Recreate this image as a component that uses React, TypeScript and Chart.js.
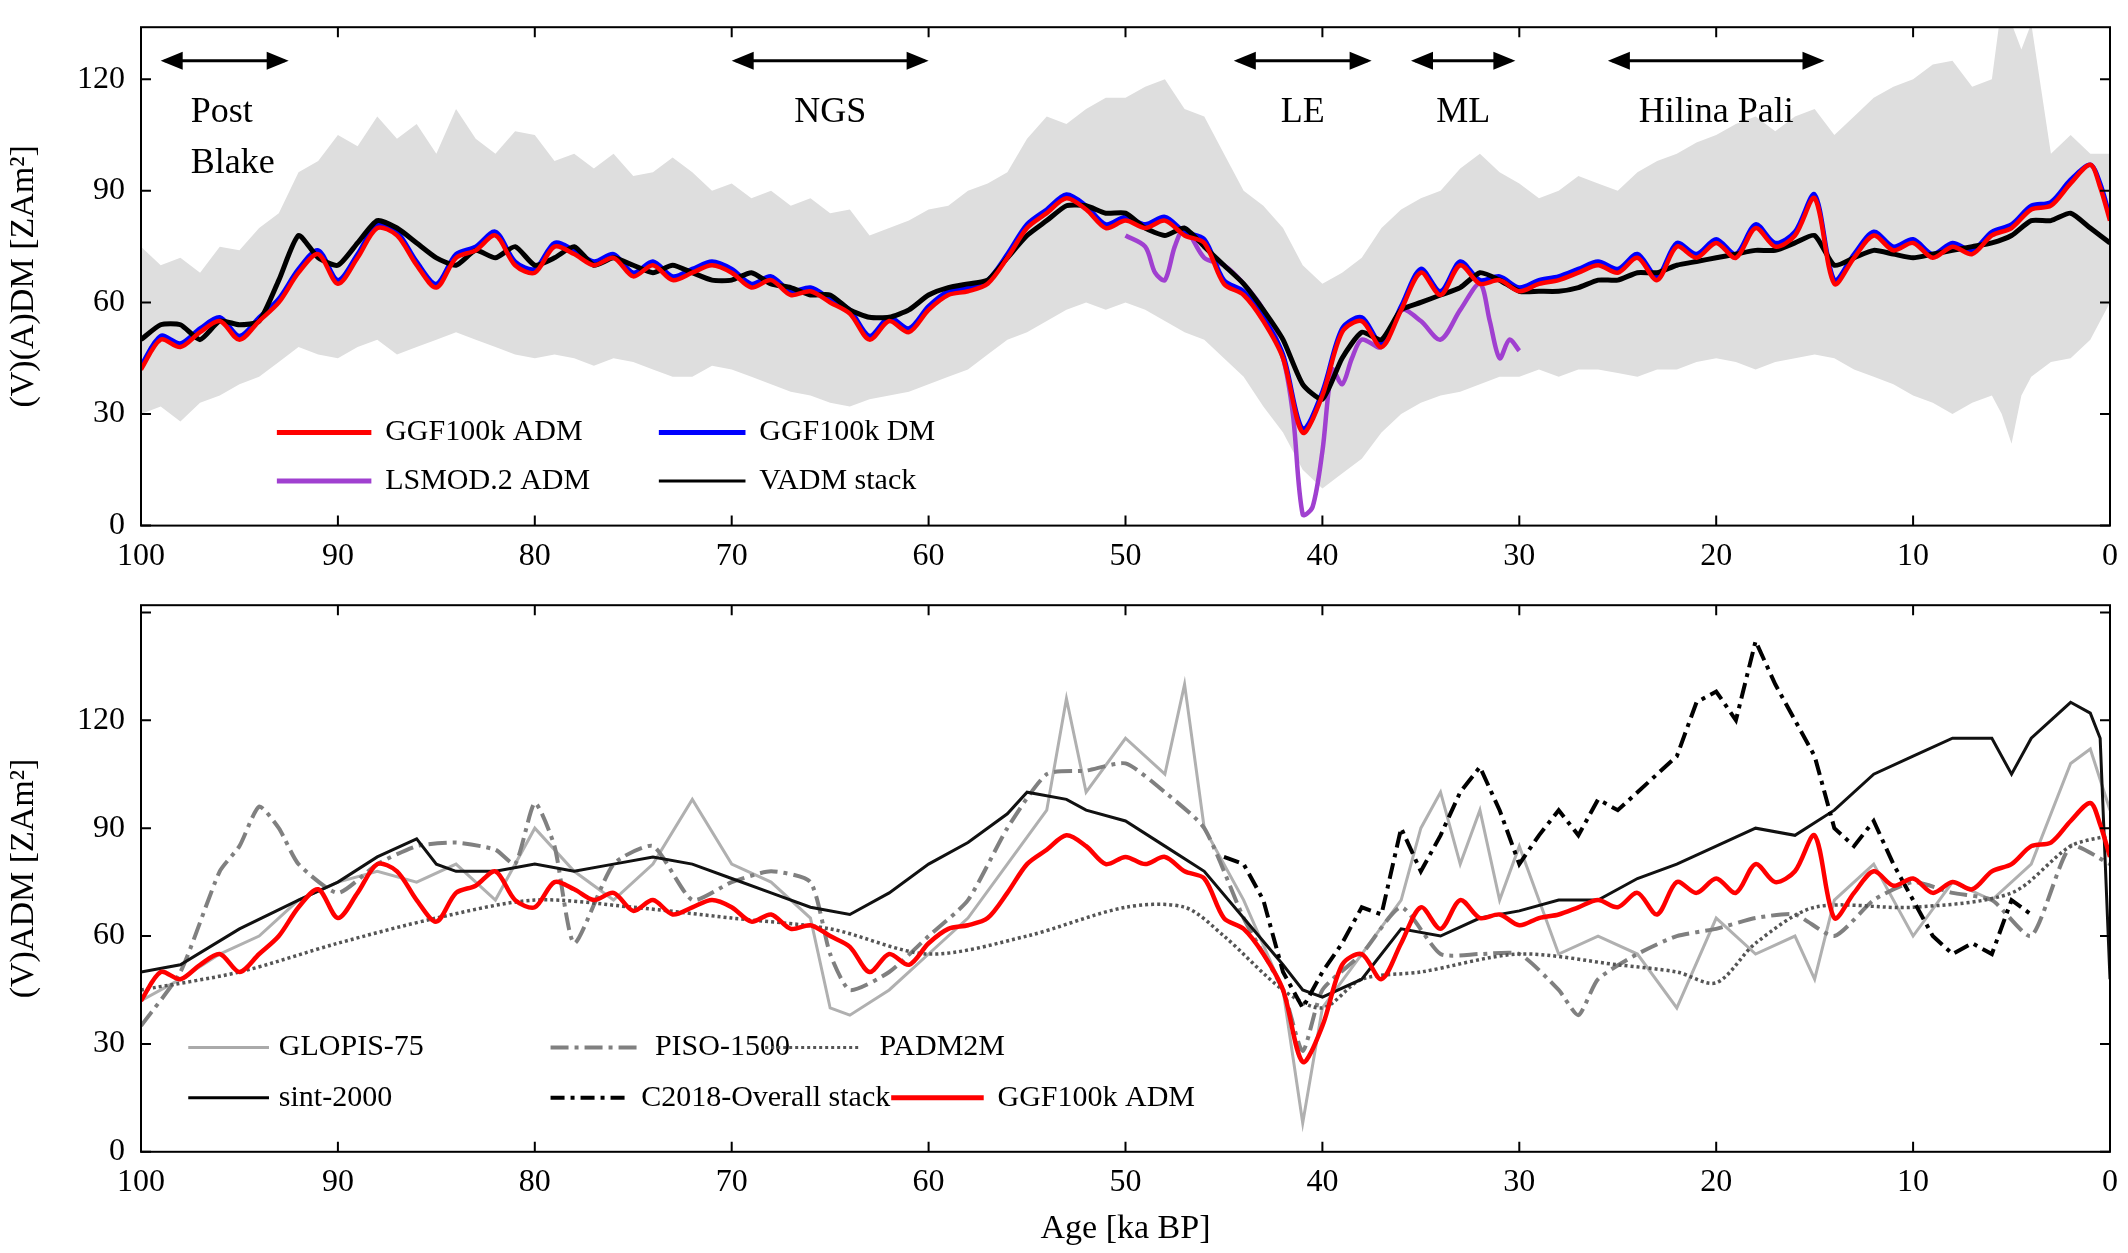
import React, { useEffect, useRef } from "react";
import { Chart, registerables } from "chart.js";
Chart.register(...registerables);

type P = [number, number][];
const FONT = "'Liberation Serif', 'DejaVu Serif', serif";

const ggfADM: P = [[100,42],[99,50],[98,48],[97,52],[96,55],[95,50],[94,55],[93,60],[92,68],[91,73],[90,65],[89,72],[88,80],[87,78],[86,70],[85,64],[84,72],[83,74],[82,78],[81,70],[80,68],[79,75],[78,73],[77,70],[76,72],[75,67],[74,70],[73,66],[72,68],[71,70],[70,68],[69,64],[68,66],[67,62],[66,63],[65,60],[64,57],[63,50],[62,55],[61,52],[60,58],[59,62],[58,63],[57,65],[56,72],[55,80],[54,84],[53,88],[52,85],[51,80],[50,82],[49,80],[48,82],[47,78],[46,76],[45,65],[44,62],[43,55],[42,45],[41,25],[40,35],[39,52],[38,55],[37,48],[36,58],[35,68],[34,62],[33,70],[32,65],[31,66],[30,63],[29,65],[28,66],[27,68],[26,70],[25,68],[24,72],[23,66],[22,75],[21,72],[20,76],[19,72],[18,80],[17,75],[16,78],[15,88],[14,65],[13,72],[12,78],[11,74],[10,76],[9,72],[8,75],[7,73],[6,78],[5,80],[4,85],[3,86],[2,92],[1,97],[0.5,91],[0,82]];
const ggfDM: P = [[100,43],[99,51],[98,49],[97,53],[96,56],[95,51],[94,56],[93,61],[92,69],[91,74],[90,66],[89,73],[88,81],[87,79],[86,71],[85,65],[84,73],[83,75],[82,79],[81,71],[80,69],[79,76],[78,74],[77,71],[76,73],[75,68],[74,71],[73,67],[72,69],[71,71],[70,69],[69,65],[68,67],[67,63],[66,64],[65,61],[64,58],[63,51],[62,56],[61,53],[60,59],[59,63],[58,64],[57,66],[56,73],[55,81],[54,85],[53,89],[52,86],[51,81],[50,83],[49,81],[48,83],[47,79],[46,77],[45,66],[44,63],[43,56],[42,46],[41,26],[40,36],[39,53],[38,56],[37,49],[36,59],[35,69],[34,63],[33,71],[32,66],[31,67],[30,64],[29,66],[28,67],[27,69],[26,71],[25,69],[24,73],[23,67],[22,76],[21,73],[20,77],[19,73],[18,81],[17,76],[16,79],[15,89],[14,66],[13,73],[12,79],[11,75],[10,77],[9,73],[8,76],[7,74],[6,79],[5,81],[4,86],[3,87],[2,93],[1,97],[0.5,92],[0,83]];
const vadmStack: P = [[100,50],[99,54],[98,54],[97,50],[96,55],[95,54],[94,55],[93,66],[92,78],[91,72],[90,70],[89,76],[88,82],[87,80],[86,76],[85,72],[84,70],[83,74],[82,72],[81,75],[80,70],[79,72],[78,75],[77,70],[76,72],[75,70],[74,68],[73,70],[72,68],[71,66],[70,66],[69,68],[68,65],[67,64],[66,62],[65,62],[64,58],[63,56],[62,56],[61,58],[60,62],[59,64],[58,65],[57,66],[56,72],[55,78],[54,82],[53,86],[52,86],[51,84],[50,84],[49,80],[48,78],[47,80],[46,75],[45,70],[44,65],[43,58],[42,50],[41,38],[40,34],[39,45],[38,52],[37,50],[36,58],[35,60],[34,62],[33,64],[32,68],[31,66],[30,63],[29,63],[28,63],[27,64],[26,66],[25,66],[24,68],[23,68],[22,70],[21,71],[20,72],[19,73],[18,74],[17,74],[16,76],[15,78],[14,70],[13,72],[12,74],[11,73],[10,72],[9,73],[8,74],[7,75],[6,76],[5,78],[4,82],[3,82],[2,84],[1,80],[0,76]];
const lsmod: P = [[50,78],[49,75],[48.5,68],[48,66],[47.5,75],[47,80],[46,72],[45,70],[44,65],[43,58],[42,45],[41.5,30],[41,3],[40.5,5],[40,20],[39.5,42],[39,38],[38.5,45],[38,50],[37,48],[36,58],[35,55],[34,50],[33,58],[32,65],[31.5,55],[31,45],[30.5,50],[30,47]];
const envUpper: P = [[100,75],[99,70],[98,72],[97,68],[96,75],[95,74],[94,80],[93,84],[92,95],[91,98],[90,105],[89,102],[88,110],[87,104],[86,108],[85,100],[84,112],[83,104],[82,100],[81,106],[80,105],[79,98],[78,100],[77,96],[76,100],[75,94],[74,95],[73,99],[72,95],[71,90],[70,92],[69,88],[68,90],[67,86],[66,88],[65,84],[64,85],[63,78],[62,80],[61,82],[60,85],[59,86],[58,90],[57,92],[56,95],[55,104],[54,110],[53,108],[52,112],[51,115],[50,115],[49,118],[48,120],[47,112],[46,110],[45,100],[44,90],[43,86],[42,80],[41,70],[40,65],[39,68],[38,72],[37,80],[36,85],[35,88],[34,90],[33,96],[32,100],[31,95],[30,92],[29,88],[28,90],[27,94],[26,92],[25,90],[24,95],[23,98],[22,100],[21,103],[20,105],[19,108],[18,110],[17,106],[16,110],[15,112],[14,105],[13,110],[12,115],[11,118],[10,120],[9,124],[8,125],[7,118],[6,120],[5.5,140],[5,135],[4.5,128],[4,135],[3,100],[2,105],[1,100],[0,100]];
const envLower: P = [[100,30],[99,32],[98,28],[97,33],[96,35],[95,38],[94,40],[93,44],[92,48],[91,46],[90,45],[89,48],[88,50],[87,46],[86,48],[85,50],[84,52],[83,50],[82,48],[81,46],[80,45],[79,46],[78,45],[77,43],[76,45],[75,44],[74,42],[73,40],[72,40],[71,43],[70,42],[69,40],[68,38],[67,36],[66,35],[65,33],[64,32],[63,34],[62,35],[61,36],[60,38],[59,40],[58,42],[57,46],[56,50],[55,52],[54,55],[53,58],[52,60],[51,58],[50,60],[49,58],[48,55],[47,52],[46,50],[45,45],[44,40],[43,32],[42,25],[41,15],[40,10],[39,14],[38,18],[37,25],[36,30],[35,33],[34,35],[33,36],[32,38],[31,40],[30,40],[29,42],[28,40],[27,42],[26,42],[25,41],[24,40],[23,42],[22,42],[21,44],[20,45],[19,44],[18,42],[17,44],[16,45],[15,46],[14,45],[13,42],[12,40],[11,38],[10,35],[9,33],[8,30],[7,33],[6,35],[5.5,30],[5,22],[4.5,35],[4,40],[3,44],[2,45],[1,50],[0,60]];

const glopis: P = [[100,42],[98,48],[96,55],[94,60],[92,70],[90,75],[88,78],[86,75],[84,80],[82,70],[80,90],[78,78],[76,70],[74,80],[72,98],[70,80],[68,75],[66,65],[65,40],[64,38],[62,45],[60,55],[58,65],[56,80],[54,95],[53,126],[52,100],[50,115],[48,105],[47,130],[46,90],[44,70],[42,45],[41,8],[40,40],[38,55],[36,70],[35,90],[34,100],[33,80],[32,95],[31,70],[30,85],[28,55],[26,60],[24,55],[22,40],[20,65],[18,55],[16,60],[15,48],[14,70],[12,80],[10,60],[8,75],[6,70],[4,80],[2,108],[1,112],[0,95]];
const piso: P = [[100,35],[98,50],[96,78],[95,85],[94,96],[93,90],[92,80],[90,72],[88,80],[86,85],[84,86],[82,84],[81,80],[80,97],[79,85],[78,58],[76,80],[74,85],[72,70],[70,75],[68,78],[66,75],[65,55],[64,45],[62,50],[60,60],[58,70],[56,90],[54,105],[52,106],[50,108],[48,100],[46,90],[44,65],[42,45],[41,28],[40,45],[38,55],[36,68],[34,55],[32,55],[30,55],[28,45],[27,38],[26,48],[24,55],[22,60],[20,62],[18,65],[16,66],[14,60],[12,70],[10,75],[8,72],[6,70],[4,60],[2,85],[0,80]];
const padm2m: P = [[100,45],[95,50],[90,58],[85,65],[80,70],[75,68],[70,65],[65,62],[60,55],[55,60],[50,68],[47,68],[45,60],[42,45],[40,40],[38,48],[35,50],[30,55],[25,52],[22,50],[20,47],[18,58],[15,68],[10,68],[5,72],[2,85],[0,88]];
const sint: P = [[100,50],[98,52],[95,62],[92,70],[90,75],[88,82],[86,87],[85,80],[84,78],[82,78],[80,80],[78,78],[76,80],[74,82],[72,80],[70,76],[68,72],[66,68],[64,66],[62,72],[60,80],[58,86],[56,94],[55,100],[53,98],[52,95],[50,92],[48,85],[46,78],[44,65],[42,52],[41,45],[40,43],[38,48],[36,62],[34,60],[32,65],[30,67],[28,70],[26,70],[24,76],[22,80],[20,85],[18,90],[16,88],[14,95],[12,105],[10,110],[8,115],[6,115],[5,105],[4,115],[2,125],[1,122],[0.5,115],[0,48]];
const c2018: P = [[45,82],[44,80],[43,70],[42,50],[41,40],[40,50],[39,58],[38,68],[37,66],[36,90],[35,78],[34,88],[33,100],[32,107],[31,95],[30,80],[29,88],[28,95],[27,88],[26,98],[25,95],[24,100],[23,105],[22,110],[21,125],[20,128],[19,120],[18,142],[17,130],[16,120],[15,110],[14,90],[13,85],[12,92],[11,80],[10,70],[9,60],[8,55],[7,58],[6,55],[5,70],[4,66]];

const topArrows: [number, number, string[]][] = [[99, 92.5, ["Post", "Blake"]], [70, 60, ["NGS"]], [44.5, 37.5, ["LE"]], [35.5, 30.2, ["ML"]], [25.5, 14.5, ["Hilina Pali"]]];

const pts = (p: P) => p.map(([x, y]) => ({ x, y }));
const line = (data: P, color: string, width: number, dash: number[] = [], tension = 0.3) => ({
  data: pts(data), borderColor: color, borderWidth: width, borderDash: dash, pointRadius: 0, tension, fill: false,
});

type LegendItem = { x1: number; x2: number; tx: number; y: number; color: string; width: number; dash: number[]; label: string };
const topLegend: LegendItem[] = [
  { x1: 93.1, x2: 88.3, tx: 87.6, y: 25, color: "#ff0000", width: 5, dash: [], label: "GGF100k ADM" },
  { x1: 73.7, x2: 69.3, tx: 68.6, y: 25, color: "#0000ff", width: 5, dash: [], label: "GGF100k DM" },
  { x1: 93.1, x2: 88.3, tx: 87.6, y: 12, color: "#a040d0", width: 5, dash: [], label: "LSMOD.2 ADM" },
  { x1: 73.7, x2: 69.3, tx: 68.6, y: 12, color: "#000000", width: 3, dash: [], label: "VADM stack" },
];
const botLegend: LegendItem[] = [
  { x1: 97.6, x2: 93.5, tx: 93.0, y: 29, color: "#aaaaaa", width: 3, dash: [], label: "GLOPIS-75" },
  { x1: 79.2, x2: 74.6, tx: 73.9, y: 29, color: "#808080", width: 4, dash: [18, 6, 4, 6], label: "PISO-1500" },
  { x1: 68.3, x2: 63.5, tx: 62.5, y: 29, color: "#555555", width: 3, dash: [3, 3], label: "PADM2M" },
  { x1: 97.6, x2: 93.5, tx: 93.0, y: 15, color: "#000000", width: 3, dash: [], label: "sint-2000" },
  { x1: 79.2, x2: 75.2, tx: 74.6, y: 15, color: "#000000", width: 4, dash: [14, 6, 4, 6], label: "C2018-Overall stack" },
  { x1: 61.9, x2: 57.2, tx: 56.5, y: 15, color: "#ff0000", width: 5, dash: [], label: "GGF100k ADM" },
];

function framePlugin(legend: LegendItem[], arrows: boolean) {
  return {
    id: "frame",
    afterDraw(chart: any) {
      const { ctx, chartArea: a, scales } = chart;
      const X = scales.x, Y = scales.y;
      ctx.save();
      ctx.strokeStyle = "#000"; ctx.lineWidth = 2;
      ctx.strokeRect(a.left, a.top, a.right - a.left, a.bottom - a.top);
      for (let v = 0; v <= 100; v += 10) {
        const px = X.getPixelForValue(v);
        ctx.beginPath(); ctx.moveTo(px, a.bottom); ctx.lineTo(px, a.bottom - 10); ctx.moveTo(px, a.top); ctx.lineTo(px, a.top + 10); ctx.stroke();
      }
      for (let v = 0; v <= Y.max; v += 30) {
        const py = Y.getPixelForValue(v);
        ctx.beginPath(); ctx.moveTo(a.left, py); ctx.lineTo(a.left + 10, py); ctx.moveTo(a.right, py); ctx.lineTo(a.right - 10, py); ctx.stroke();
      }
      ctx.font = `30px ${FONT}`; ctx.fillStyle = "#000"; ctx.textBaseline = "middle";
      for (const it of legend) {
        const py = Y.getPixelForValue(it.y);
        ctx.strokeStyle = it.color; ctx.lineWidth = it.width; ctx.setLineDash(it.dash);
        ctx.beginPath(); ctx.moveTo(X.getPixelForValue(it.x1), py); ctx.lineTo(X.getPixelForValue(it.x2), py); ctx.stroke();
        ctx.setLineDash([]);
        ctx.textAlign = "left";
        ctx.fillText(it.label, X.getPixelForValue(it.tx), py);
      }
      if (arrows) {
        ctx.strokeStyle = "#000"; ctx.fillStyle = "#000"; ctx.lineWidth = 3;
        const ay = Y.getPixelForValue(125);
        for (const [a1, a2, labels] of topArrows) {
          const p1 = X.getPixelForValue(a1), p2 = X.getPixelForValue(a2);
          ctx.beginPath(); ctx.moveTo(p1 + 4, ay); ctx.lineTo(p2 - 4, ay); ctx.stroke();
          for (const [p, d] of [[p1, 1], [p2, -1]]) {
            ctx.beginPath(); ctx.moveTo(p, ay); ctx.lineTo(p + d * 22, ay - 9); ctx.lineTo(p + d * 22, ay + 9); ctx.closePath(); ctx.fill();
          }
          ctx.font = `36px ${FONT}`;
          if (labels.length === 2) {
            ctx.textAlign = "left";
            ctx.fillText(labels[0], p1 + 30, ay + 52);
            ctx.fillText(labels[1], p1 + 30, ay + 103);
          } else {
            ctx.textAlign = "center";
            ctx.fillText(labels[0], (p1 + p2) / 2, ay + 52);
          }
        }
      }
      ctx.restore();
    },
  };
}

function opts(ymax: number, ytitle: string, xtitle: boolean, padTop: number) {
  return {
    animation: false, responsive: false, maintainAspectRatio: false,
    layout: { padding: { top: padTop, right: 18, left: 0, bottom: 0 } },
    plugins: { legend: { display: false }, tooltip: { enabled: false } },
    scales: {
      x: {
        type: "linear", reverse: true, min: 0, max: 100,
        grid: { display: false }, border: { display: false },
        ticks: { stepSize: 10, color: "#000", font: { family: FONT, size: 32 }, padding: 4 },
        title: { display: xtitle, text: "Age [ka BP]", color: "#000", font: { family: FONT, size: 34 }, padding: { top: 2 } },
      },
      y: {
        min: 0, max: ymax,
        afterFit: (s: any) => { s.width = 141; },
        grid: { display: false }, border: { display: false },
        ticks: { stepSize: 30, color: "#000", font: { family: FONT, size: 32 }, padding: 8,
          callback: (v: number) => (v % 30 === 0 ? String(v) : "") },
        title: { display: true, text: ytitle, color: "#000", font: { family: FONT, size: 34 }, padding: 4 },
      },
    },
  } as any;
}

function TopChart() {
  const ref = useRef<HTMLCanvasElement>(null);
  useEffect(() => {
    const c = new Chart(ref.current!, {
      type: "line",
      data: {
        datasets: [
          line(ggfADM, "#ff0000", 4.5),
          line(vadmStack, "#000000", 5, [], 0.2),
          line(ggfDM, "#0000ff", 4.5),
          line(lsmod, "#a040d0", 4.5),
          { ...line(envLower, "rgba(0,0,0,0)", 0, [], 0) },
          { ...line(envUpper, "rgba(0,0,0,0)", 0, [], 0), fill: "-1", backgroundColor: "#dedede" },
        ],
      },
      options: opts(134, "(V)(A)DM [ZAm²]", false, 7),
      plugins: [framePlugin(topLegend, true)],
    } as any);
    return () => c.destroy();
  }, []);
  return <canvas ref={ref} width={2128} height={580} style={{ position: "absolute", left: 0, top: 0 }} />;
}

function BottomChart() {
  const ref = useRef<HTMLCanvasElement>(null);
  useEffect(() => {
    const c = new Chart(ref.current!, {
      type: "line",
      data: {
        datasets: [
          line(ggfADM, "#ff0000", 4.5),
          line(c2018, "#000000", 4, [16, 6, 4, 6], 0),
          line(sint, "#111111", 3, [], 0),
          line(padm2m, "#555555", 3.5, [3, 3], 0.3),
          line(piso, "#808080", 4, [18, 6, 4, 6], 0.2),
          line(glopis, "#b0b0b0", 3, [], 0),
        ],
      },
      options: opts(152, "(V)ADM [ZAm²]", true, 6),
      plugins: [framePlugin(botLegend, false)],
    } as any);
    return () => c.destroy();
  }, []);
  return <canvas ref={ref} width={2128} height={675} style={{ position: "absolute", left: 0, top: 578 }} />;
}

export default function App() {
  return (
    <div style={{ position: "absolute", left: 0, top: 0, width: 2128, height: 1253, background: "#fff" }}>
      <TopChart />
      <BottomChart />
    </div>
  );
}
